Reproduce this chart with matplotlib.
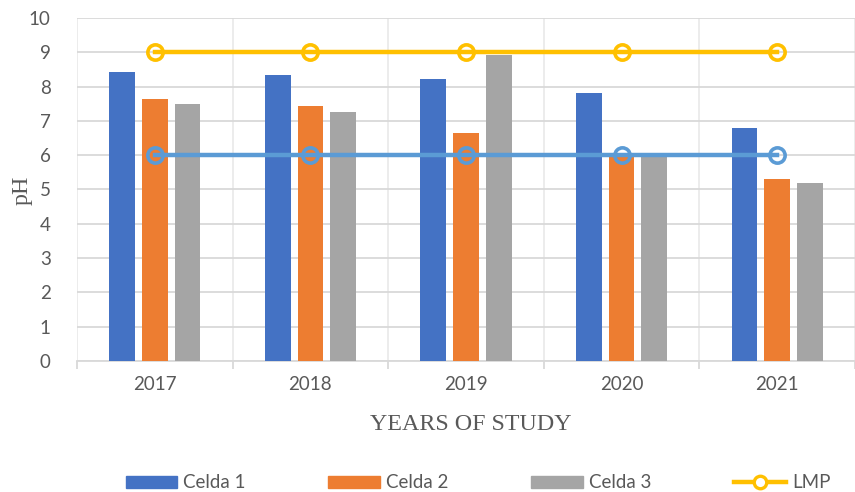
import matplotlib
matplotlib.use("Agg")
import matplotlib.pyplot as plt
import numpy as np
from matplotlib.patches import Patch
from matplotlib.lines import Line2D

years = ["2017", "2018", "2019", "2020", "2021"]
celda1 = [8.42, 8.33, 8.22, 7.80, 6.78]
celda2 = [7.64, 7.43, 6.66, 5.96, 5.31]
celda3 = [7.48, 7.27, 8.93, 5.96, 5.19]
lmp_max = [9, 9, 9, 9, 9]
lmp_min = [6, 6, 6, 6, 6]

c1, c2, c3 = "#4472C4", "#ED7D31", "#A5A5A5"
cy, cb = "#FFC000", "#5B9BD5"
txt = "#595959"

plt.rcParams['font.family'] = ['Lato', 'DejaVu Sans']

fig = plt.figure(figsize=(8.55, 4.92), dpi=100)
ax = fig.add_axes([77/855, (492-361)/492, (855-77)/855, (361-18)/492])

x = np.arange(len(years))
w = 0.165
off = 0.21
ax.bar(x - off, celda1, w, color=c1, zorder=3)
ax.bar(x, celda2, w, color=c2, zorder=3)
ax.bar(x + off, celda3, w, color=c3, zorder=3)

lkw = dict(lw=3.2, marker='o', ms=11, mfc='none', mew=2.6, zorder=4)
ax.plot(x, lmp_max, color=cy, **lkw)
ax.plot(x, lmp_min, color=cb, **lkw)

ax.set_ylim(0, 10)
ax.set_xlim(-0.5, -0.5 + (855-77)/157.7)
ax.set_yticks(range(0, 11))
ax.set_xticks(x)
ax.set_xticklabels(years)
ax.set_xticks(np.arange(-0.5, 5, 1), minor=True)

ax.grid(axis='y', color='#D9D9D9', lw=1.3, zorder=0)
for b in np.arange(-0.5, 5, 1):
    ax.axvline(b, color='#EBEBEB', lw=1.3, zorder=0)

for s in ['top', 'right', 'left']:
    ax.spines[s].set_visible(False)
ax.spines['bottom'].set_color('#D9D9D9')
ax.spines['bottom'].set_linewidth(1.3)
ax.spines['bottom'].set_zorder(2)

ax.tick_params(axis='y', length=0, pad=19, labelsize=13.5, labelcolor=txt)
ax.tick_params(axis='x', which='major', length=0, pad=11, labelsize=13.5, labelcolor=txt)
ax.tick_params(axis='x', which='minor', length=6, width=1.3, color='#D9D9D9')

fig.text(471/855, 1 - 424/492, "YEARS OF STUDY", family=['Liberation Serif'], fontsize=17.3,
         color=txt, ha='center', va='center')
fig.text(22/855, 1 - 190/492, "pH", family=['Liberation Serif'], fontsize=17.3,
         color=txt, ha='center', va='center', rotation=90)

handles = [Patch(color=c1, label="Celda 1"), Patch(color=c2, label="Celda 2"),
           Patch(color=c3, label="Celda 3"),
           Line2D([], [], color=cy, lw=3.2, marker='o', ms=9, mfc='white', mew=2.4, label="LMP")]
fig.legend(handles=handles, loc='center', bbox_to_anchor=(478/855, 1 - 483/492), ncol=4,
           frameon=False, fontsize=13.5, labelcolor=txt, handlelength=2.77, handleheight=0.64,
           handletextpad=0.32, columnspacing=4.4, borderpad=0, borderaxespad=0)

fig.savefig("out.png", dpi=100, facecolor='white')
